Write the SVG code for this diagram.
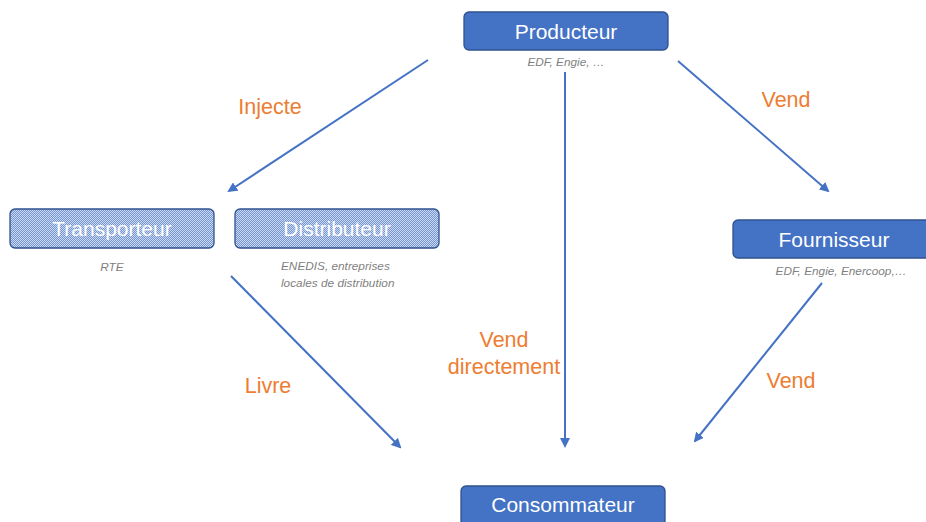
<svg xmlns="http://www.w3.org/2000/svg" width="926" height="522" viewBox="0 0 926 522">
<style>
.box{fill:#4472C4;stroke:#2F528F;stroke-width:1.3}
.hbox{fill:url(#hatch);stroke:#2F528F;stroke-width:1.3}
.t{font-family:"Liberation Sans",Arial,sans-serif;font-size:21px;fill:#fff;text-anchor:middle}
.s{font-family:"Liberation Sans",Arial,sans-serif;font-size:11.8px;font-style:italic;fill:#7F7F7F}
.l{font-family:"Liberation Sans",Arial,sans-serif;font-size:21.5px;fill:#ED7D31;text-anchor:middle}
.c{stroke:#4472C4;stroke-width:2;fill:none;marker-end:url(#ah)}
</style>
<defs>
<pattern id="hatch" width="2" height="2" patternUnits="userSpaceOnUse">
<rect width="2" height="2" fill="#7495D3"/>
<rect width="1" height="1" fill="#CDD9F0"/>
<rect x="1" y="1" width="1" height="1" fill="#CDD9F0"/>
</pattern>
<marker id="ah" viewBox="0 0 10 10" refX="8" refY="5" markerWidth="5" markerHeight="5" orient="auto" markerUnits="strokeWidth">
<path d="M0,0 L10,5 L0,10 z" fill="#4472C4"/>
</marker>
</defs>
<g id="connectors">
<line class="c" x1="428" y1="60" x2="229" y2="191"/>
<line class="c" x1="565" y1="72" x2="565" y2="446"/>
<line class="c" x1="678" y1="61" x2="828" y2="191"/>
<line class="c" x1="231" y1="276" x2="400" y2="447"/>
<line class="c" x1="822" y1="283" x2="695" y2="441"/>
</g>
<g id="labels">
<text class="l" x="270" y="114">Injecte</text>
<text class="l" x="786" y="107">Vend</text>
<text class="l" x="268" y="393">Livre</text>
<text class="l" x="791" y="388">Vend</text>
<text class="l" x="504" y="347">Vend</text>
<text class="l" x="504" y="374">directement</text>
</g>
<g id="producteur">
<rect class="box" x="464" y="12" width="204" height="38" rx="5"/>
<text class="t" x="566" y="39">Producteur</text>
<text class="s" x="566" y="66" text-anchor="middle">EDF, Engie, …</text>
</g>
<g id="transporteur">
<rect class="hbox" x="10" y="209" width="204" height="39" rx="5"/>
<text class="t" x="112" y="236">Transporteur</text>
<text class="s" x="112" y="271" text-anchor="middle">RTE</text>
</g>
<g id="distributeur">
<rect class="hbox" x="235" y="209" width="204" height="39" rx="5"/>
<text class="t" x="337" y="236">Distributeur</text>
<text class="s" x="281" y="270">ENEDIS, entreprises</text>
<text class="s" x="281" y="287">locales de distribution</text>
</g>
<g id="fournisseur">
<rect class="box" x="733" y="220" width="204" height="38" rx="5"/>
<text class="t" x="834" y="247">Fournisseur</text>
<text class="s" x="841" y="275" text-anchor="middle">EDF, Engie, Enercoop,…</text>
</g>
<g id="consommateur">
<rect class="box" x="461" y="486" width="204" height="40" rx="5"/>
<text class="t" x="563" y="512">Consommateur</text>
</g>
</svg>
